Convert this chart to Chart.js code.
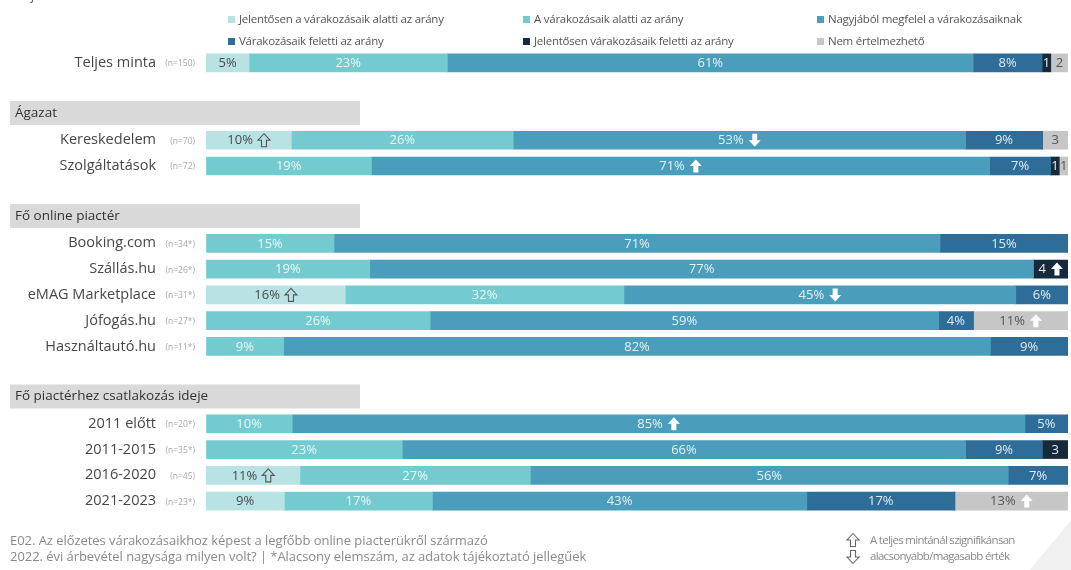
<!DOCTYPE html>
<html>
<head>
<meta charset="utf-8">
<script src="https://cdn.jsdelivr.net/npm/chart.js@4.4.1/dist/chart.umd.min.js"></script>
<style>
  html, body { margin:0; padding:0; background:#fff; }
  #wrap { position:relative; width:1071px; height:570px; overflow:hidden; font-family:"Open Sans", "Noto Sans", sans-serif; }
  canvas { position:absolute; left:0; top:0; }
  .leg { position:absolute; font-size:11.5px; color:#555; white-space:nowrap; letter-spacing:-0.25px; }
  .leg i { display:inline-block; width:7px; height:7px; margin-right:4px; vertical-align:0px; }
  .foot { position:absolute; color:#8a8a8a; white-space:nowrap; line-height:16px; }
  .cut { position:absolute; left:13px; top:-14px; font-size:13px; color:#555; }
</style>
</head>
<body>
<div id="wrap">
  <canvas id="c" width="1071" height="570"></canvas>
  <div class="cut">Teljes minta</div>
  <div id="legend"></div>
  <div class="foot" style="left:10px; top:532px; font-size:13px; letter-spacing:-0.05px;">E02. Az előzetes várakozásaikhoz képest a legfőbb online piacterükről származó<br>2022. évi árbevétel nagysága milyen volt? | *Alacsony elemszám, az adatok tájékoztató jellegűek</div>
  <div class="foot" style="left:870px; top:532px; font-size:11.5px; letter-spacing:-0.7px;">A teljes mintánál szignifikánsan<br>alacsonyabb/magasabb érték</div>
</div>
<script>
// ---- DATA ----
const rowLabels = ['Teljes minta','','Ágazat','Kereskedelem','Szolgáltatások','','Fő online piactér','Booking.com','Szállás.hu','eMAG Marketplace','Jófogás.hu','Használtautó.hu','','Fő piactérhez csatlakozás ideje','2011 előtt','2011-2015','2016-2020','2021-2023'];
const rowKind  = ['bar','gap','head','bar','bar','gap','head','bar','bar','bar','bar','bar','gap','head','bar','bar','bar','bar'];
const rowN     = ['(n=150)','','','(n=70)','(n=72)','','','(n=34*)','(n=26*)','(n=31*)','(n=27*)','(n=11*)','','','(n=20*)','(n=35*)','(n=45)','(n=23*)'];

const seriesNames = ['Jelentősen a várakozásaik alatti az arány','A várakozásaik alatti az arány','Nagyjából megfelel a várakozásaiknak','Várakozásaik feletti az arány','Jelentősen várakozásaik feletti az arány','Nem értelmezhető'];
const sJelAlatti   = [5,null,null,10,0,null,null,0,0,16,0,0,null,null,0,0,11,9];
const sAlatti      = [23,null,null,26,19,null,null,15,19,32,26,9,null,null,10,23,27,17];
const sMegfelel    = [61,null,null,53,71,null,null,71,77,45,59,82,null,null,85,66,56,43];
const sFeletti     = [8,null,null,9,7,null,null,15,0,6,4,9,null,null,5,9,7,17];
const sJelFeletti  = [1,null,null,0,1,null,null,0,4,0,0,0,null,null,0,3,0,0];
const sNemErt      = [2,null,null,3,1,null,null,0,0,0,11,0,null,null,0,0,0,13];

// significance markers: row label, series index, direction
const sigRows   = ['Kereskedelem','Kereskedelem','Szolgáltatások','Szállás.hu','eMAG Marketplace','eMAG Marketplace','Jófogás.hu','2011 előtt','2016-2020','2021-2023'];
const sigSeries = [0,2,2,4,0,2,5,2,0,5];
const sigDir    = ['up','down','up','up','up','down','up','up','up','up'];

// ---- STYLE ----
const colors = ['#b8e2e4','#74cbcf','#4a9ebb','#2f6d99','#172a3b','#c6c6c6'];
const labelColors = ['#4a4a4a','rgba(255,255,255,0.85)','rgba(255,255,255,0.85)','rgba(255,255,255,0.85)','rgba(255,255,255,0.9)','#555'];
const FONT = '"Open Sans", "Noto Sans", sans-serif';

const allSeries = [sJelAlatti,sAlatti,sMegfelel,sFeletti,sJelFeletti,sNemErt];
const rowTotals = rowLabels.map((_,i)=> allSeries.reduce((a,s)=> a + (s[i]||0), 0));

// legend
const legendPos = [[228,11],[523,11],[817,11],[228,33],[523,33],[817,33]];
const legEl = document.getElementById('legend');
seriesNames.forEach((n,i)=>{
  const d = document.createElement('div');
  d.className='leg';
  d.style.left = legendPos[i][0]+'px';
  d.style.top = legendPos[i][1]+'px';
  d.innerHTML = '<i style="background:'+colors[i]+'"></i>'+n;
  legEl.appendChild(d);
});

function drawArrow(ctx, cx, cy, dir, hollow, color){
  const w=12, h=13, sw=5, hh=6.5;
  const s = dir==='up' ? 1 : -1;
  const top = cy - s*h/2, neck = cy - s*(h/2 - hh), bot = cy + s*h/2;
  ctx.save();
  ctx.beginPath();
  ctx.moveTo(cx, top);
  ctx.lineTo(cx+w/2, neck);
  ctx.lineTo(cx+sw/2, neck);
  ctx.lineTo(cx+sw/2, bot);
  ctx.lineTo(cx-sw/2, bot);
  ctx.lineTo(cx-sw/2, neck);
  ctx.lineTo(cx-w/2, neck);
  ctx.closePath();
  if(hollow){ ctx.strokeStyle=color; ctx.lineWidth=1.1; ctx.lineJoin='miter'; ctx.stroke(); }
  else { ctx.fillStyle=color; ctx.fill(); }
  ctx.restore();
}

const deco = {
  id:'deco',
  beforeDatasetsDraw(chart){
    const ctx = chart.ctx, y = chart.scales.y;
    rowKind.forEach((k,i)=>{
      if(k!=='head') return;
      const cy = y.getPixelForValue(i) - 1.5;
      ctx.fillStyle='#d9d9d9';
      ctx.fillRect(10, cy-12, 350, 24);
      ctx.fillStyle='#333';
      ctx.font='13.5px '+FONT;
      ctx.textAlign='left'; ctx.textBaseline='middle';
      ctx.fillText(rowLabels[i], 15, cy);
    });
  },
  afterDatasetsDraw(chart){
    const ctx = chart.ctx;
    chart.data.datasets.forEach((ds,si)=>{
      const meta = chart.getDatasetMeta(si);
      meta.data.forEach((el,ri)=>{
        const v = allSeries[si][ri];
        if(v==null || v===0) return;
        const cx = (el.x + el.base)/2, cy = el.y;
        const txt = (v<5 && si>=4) ? String(v) : v+'%';
        ctx.font='13px '+FONT;
        ctx.textBaseline='middle';
        let sigIdx = -1;
        sigRows.forEach((r,k)=>{ if(r===rowLabels[ri] && sigSeries[k]===si) sigIdx=k; });
        const tw = ctx.measureText(txt).width;
        ctx.fillStyle = labelColors[si];
        if(sigIdx<0){
          ctx.textAlign='center';
          ctx.fillText(txt, cx, cy+0.5);
        } else {
          const gap=5, aw=12, total=tw+gap+aw;
          const x0 = cx - total/2;
          ctx.textAlign='left';
          ctx.fillText(txt, x0, cy+0.5);
          const hollow = si===0;
          drawArrow(ctx, x0+tw+gap+aw/2, cy, sigDir[sigIdx], hollow, hollow ? '#555' : '#fff');
        }
      });
    });
  },
  afterDraw(chart){
    const ctx = chart.ctx, y = chart.scales.y;
    rowKind.forEach((k,i)=>{
      if(k!=='bar') return;
      const cy = y.getPixelForValue(i);
      ctx.textBaseline='middle';
      ctx.textAlign='right';
      ctx.fillStyle='#474747';
      ctx.font='14.5px '+FONT;
      ctx.fillText(rowLabels[i], 156, cy);
      ctx.fillStyle='#a8a8a8';
      ctx.font='8.5px '+FONT;
      ctx.fillText(rowN[i], 195, cy+1);
    });
    drawArrow(ctx, 853, 540, 'up', true, '#666');
    drawArrow(ctx, 853, 557, 'down', true, '#666');
    // faint corner decoration
    ctx.fillStyle='rgba(230,230,230,0.6)';
    ctx.beginPath(); ctx.moveTo(1071,520); ctx.lineTo(1071,570); ctx.lineTo(1030,570); ctx.closePath(); ctx.fill();
  }
};

new Chart(document.getElementById('c'), {
  type:'bar',
  data:{
    labels: rowLabels,
    datasets: allSeries.map((s,si)=>({
      label: seriesNames[si],
      data: s.map((v,i)=> v==null ? null : v/rowTotals[i]*100),
      backgroundColor: colors[si],
      borderWidth:0,
      barThickness:18
    }))
  },
  options:{
    indexAxis:'y',
    responsive:false,
    animation:false,
    devicePixelRatio:1,
    layout:{ padding:{ left:206, right:3, top:50, bottom:56 } },
    scales:{
      x:{ stacked:true, min:0, max:100, display:false },
      y:{ stacked:true, display:false }
    },
    plugins:{ legend:{display:false}, tooltip:{enabled:false} }
  },
  plugins:[deco]
});
</script>
</body>
</html>
